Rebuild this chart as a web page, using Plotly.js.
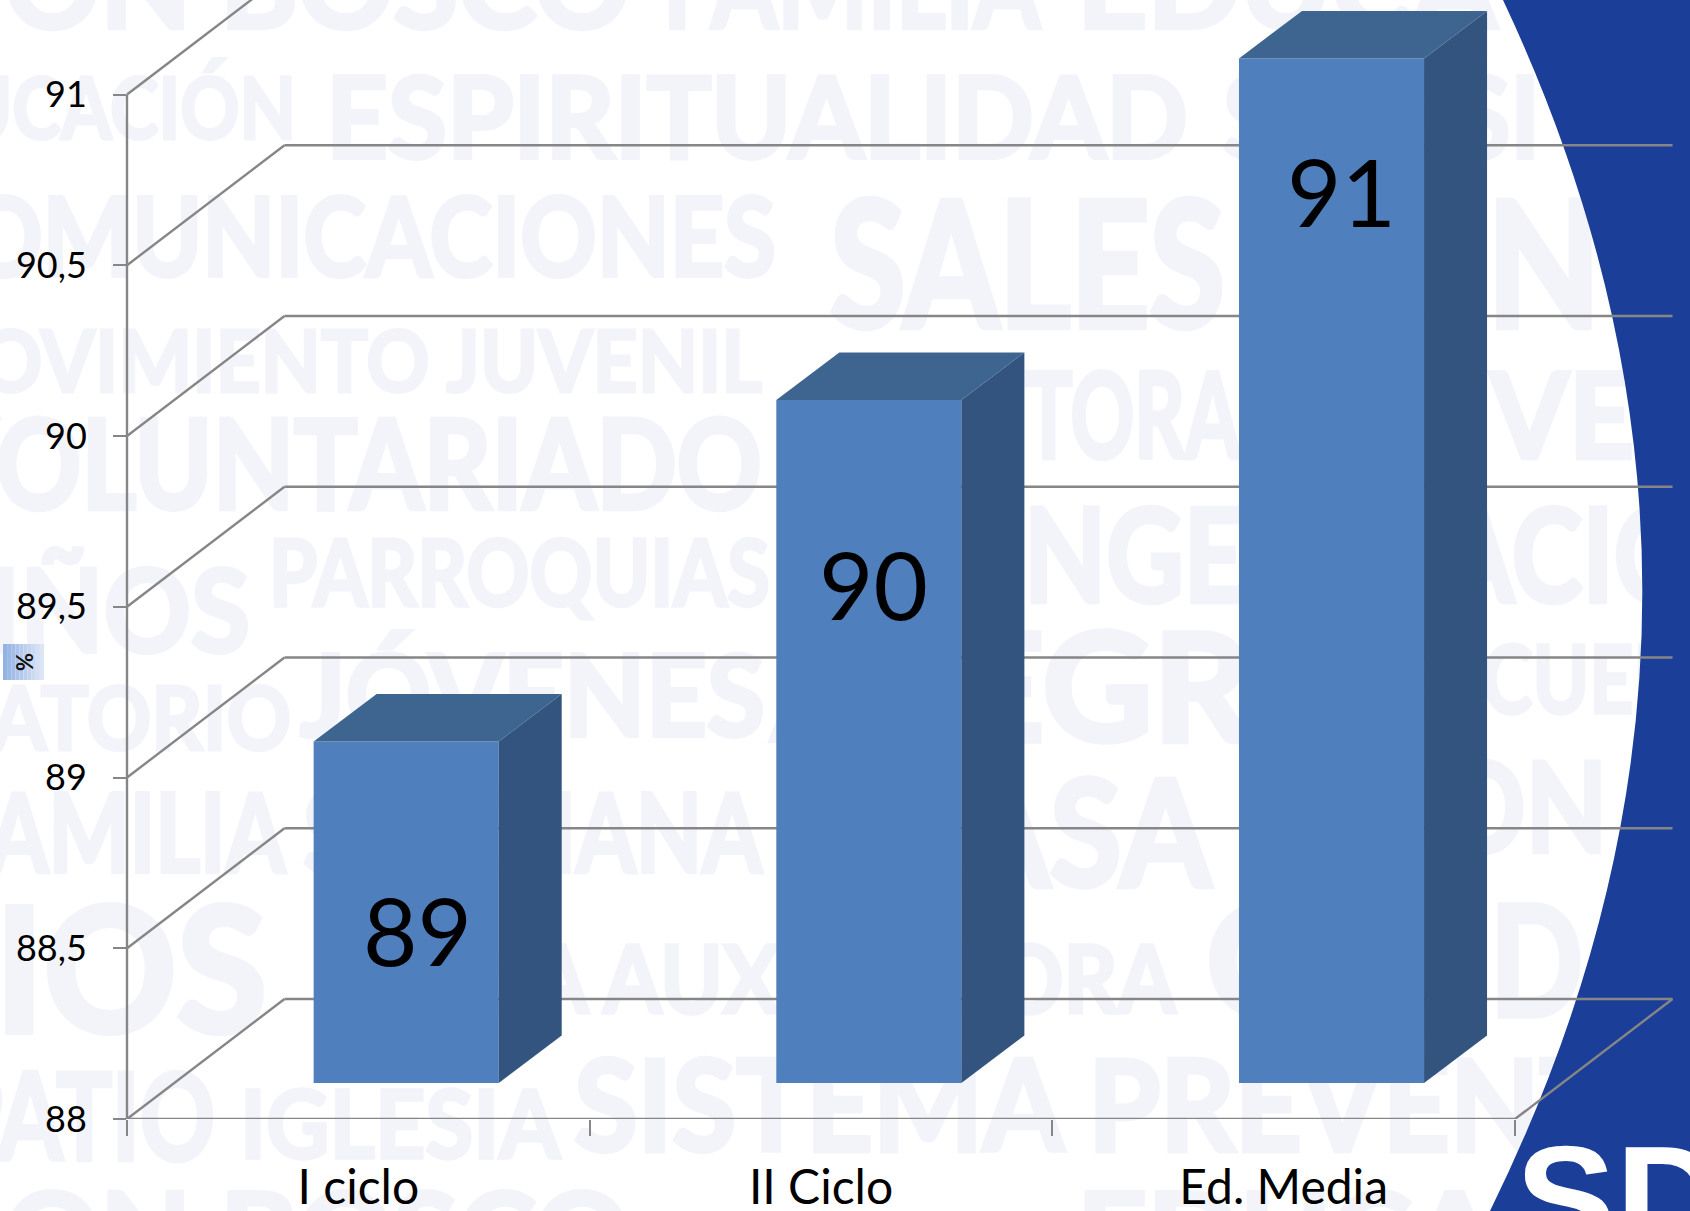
<!DOCTYPE html>
<html>
<head>
<meta charset="utf-8">
<script src="https://cdn.plot.ly/plotly-3.0.1.min.js"></script>
<style>html,body{margin:0;padding:0;background:#fff}#chart{width:1690px;height:1211px}</style>
</head>
<body>
<div id="chart"></div>
<script>
// ---- data ----
const categories = ['I ciclo', 'II Ciclo', 'Ed. Media'];
const values = [89, 90, 91];
const yTickVals = [88, 88.5, 89, 89.5, 90, 90.5, 91];
const yTickText = ['88', '88,5', '89', '89,5', '90', '90,5', '91'];
const unitLabel = '%';
const watermarkWords = ['DON BOSCO','FAMILIA','EDUCA','EDUCACIÓN','ESPIRITUALIDAD','SALESI','COMUNICACIONES','SALES','NO',
  'MOVIMIENTO JUVENIL','TORA','VE','VOLUNTARIADO','PARROQUIAS','NIÑOS','NGE','ACIÓ','ORATORIO','JÓVENES',
  'ALEGRIA','ESCUELA','FAMILIA SALESIANA','CASA','DON','PATIOS','MARÍA AUXILIADORA','C','D','PATIO','IGLESIA',
  'SISTEMA PREVENTIVO','DON BOSCO','EDUCA'];

// ---- layout constants (page pixels) ----
const W = 1690, H = 1211;
const L = 127, R = 1673, B = 1119;        // plot box; top is the page top
const unitX = 462.67, unitY = 341.5;      // px per category, px per value unit
const yRange = [88, 88 + B / unitY];
const xRange = [0, (R - L) / unitX];
const front = {dx: 48 / unitX, dy: 36 / unitY};  // bars sit this far behind the axis plane
const depth = {dx: 63 / unitX, dy: 47.5 / unitY};
const wall = {dx: 157.5 / unitX, dy: 120 / unitY};
const barLeft = 0.1034, barWidth = 0.4;
const BAR_FRONT = '#4F7FBC', BAR_SIDE = '#32547E', BAR_TOP = '#3E6490', GRID = '#868686', BLUE = '#1B3F98';

const px = x => (x - L) / (R - L);
const py = y => (B - y) / B;
const xf = u => u / xRange[1];   // position along the category scale, as a fraction of the plot width
const wmFont = 'Lato, sans-serif';
// [left x, right x, cap top y, cap bottom y] of each watermark word, same order as watermarkWords
const wmPlace = [[-85,630,-54,31],[663,1040,-54,31],[1077,1497,-54,31],[-140,296,79,141],[326,1188,79,160],[1223,1540,79,160],
  [-95,776,200,278],[830,1225,204,330],[1487,1720,204,330],
  [-95,762,332,394],[1025,1240,376,461],[1490,1634,376,461],[-75,762,422,511],[269,770,542,608],[-95,250,572,655],
  [1024,1245,511,605],[1440,1700,511,605],[-125,291,688,752],[300,765,657,738],
  [772,1402,636,744],[1396,1726,648,715],[-55,762,796,874],[872,1211,783,889],[1360,1607,765,854],[-300,267,912,1036],
  [313,1176,947,1015],[1206,1310,908,1019],[1490,1583,908,1019],[-55,215,1075,1162],[240,560,1092,1160],
  [574,1816,1063,1154],[-85,630,1196,1281],[1077,1497,1196,1281]];

const shapes = [];
watermarkWords.forEach((w, i) => {
  const [x0, x1, t, b] = wmPlace[i];
  const s = (b - t) / 0.72, cy = (t + b) / 2 - 0.06 * s, cx = (x0 + x1) / 2;
  shapes.push({type:'rect', xref:'paper', yref:'paper', layer:'below', x0:px(cx-50), x1:px(cx+50), y0:py(cy+20), y1:py(cy-20),
    line:{width:0}, fillcolor:'rgba(0,0,0,0)',
    label:{text:w, textposition:'middle center', font:{family:wmFont, size:s, color:'#F3F4FA', weight:'bold'}}});
});
// blue curved panel at the right
const P = (x, y) => px(x) + ' ' + py(y);
shapes.push({type:'path', xref:'paper', yref:'paper', layer:'below', line:{width:0}, fillcolor:BLUE,
  path:'M ' + P(1503,0) + ' Q ' + P(1788,605) + ' ' + P(1490,1211) + ' L ' + P(1690,1211) + ' L ' + P(1690,0) + ' Z'});
// logo letters
shapes.push({type:'rect', xref:'paper', yref:'paper', layer:'below', x0:px(1570), x1:px(1670), y0:py(1205), y1:py(1165),
  line:{width:0}, fillcolor:'rgba(0,0,0,0)',
  label:{text:'SD', textposition:'middle center', font:{family:'Liberation Sans', size:150, color:'#FFFFFF', weight:'bold'}}});
// % badge gradient
const nBadge = 10;
for (let i = 0; i < nBadge; i++) {
  const t = i / (nBadge - 1);
  const c = [148 + t * 72, 179 + t * 50, 227 + t * 18].map(Math.round);
  shapes.push({type:'rect', xref:'paper', yref:'paper', layer:'below', x0:px(3 + i * 4.1), x1:px(3 + (i + 1) * 4.1), y0:py(680), y1:py(644),
    line:{width:0}, fillcolor:'rgb(' + c.join(',') + ')'});
}
// walls: diagonal + back line for each level, placed on the value axis, beneath the bars
const gl = {color:GRID, width:2.4};
const wallLine = (x0, y0, x1, y1) => ({type:'line', xref:'paper', yref:'y', layer:'below', x0:xf(x0), y0, x1:xf(x1), y1, line:gl});
yTickVals.forEach(v => {
  shapes.push(wallLine(0, v, wall.dx, v + wall.dy));
  shapes.push(wallLine(wall.dx, v + wall.dy, 3 + wall.dx, v + wall.dy));
});
// floor edges and axis lines
shapes.push(wallLine(0, yRange[0], 3, yRange[0]));
shapes.push(wallLine(3, yRange[0], 3 + wall.dx, yRange[0] + wall.dy));
shapes.push(wallLine(0, yRange[0], 0, 91));

// ---- traces ----
const traces = [{
  type:'bar', x:categories, y:values.map(v => v - 88), base:88, xaxis:'x', yaxis:'y2',
  width:barWidth, offset:barLeft - 0.2, marker:{color:BAR_FRONT, line:{width:0}}, showlegend:false
}];
values.forEach((v, i) => {
  const xl = i + 0.5 + barLeft - 0.2, xr = xl + barWidth;
  traces.push({type:'scatter', mode:'lines', xaxis:'x2', yaxis:'y2', fill:'toself', fillcolor:BAR_SIDE, line:{width:0}, hoverinfo:'skip', showlegend:false,
    x:[xr, xr + depth.dx, xr + depth.dx, xr, xr], y:[88, 88 + depth.dy, v + depth.dy, v, 88]});
  traces.push({type:'scatter', mode:'lines', xaxis:'x2', yaxis:'y2', fill:'toself', fillcolor:BAR_TOP, line:{width:0}, hoverinfo:'skip', showlegend:false,
    x:[xl, xl + depth.dx, xr + depth.dx, xr, xl], y:[v, v + depth.dy, v + depth.dy, v, v]});
});

// value labels, centred where they sit on the bars
const labelX = [417, 873, 1341], labelY = [929, 583, 191];
const annotations = values.map((v, i) => ({
  xref:'paper', yref:'paper', x:px(labelX[i]), y:py(labelY[i]), text:String(v), showarrow:false, xanchor:'center', yanchor:'middle',
  font:{family:'Lato', size:94, color:'#000'}
}));
annotations.push({xref:'paper', yref:'paper', x:px(24), y:py(662), text:'<b>' + unitLabel + '</b>', textangle:-90, showarrow:false,
  xanchor:'center', yanchor:'middle', font:{family:'Lato', size:22, color:'#111'}});

const layout = {
  width:W, height:H, margin:{l:L, r:W - R, t:0, b:H - B, pad:0},
  paper_bgcolor:'#fff', plot_bgcolor:'rgba(0,0,0,0)', showlegend:false, hovermode:false,
  xaxis:{type:'category', categoryorder:'array', categoryarray:categories, range:[xRange[0] - 0.5, xRange[1] - 0.5], tickson:'boundaries',
    ticks:'outside', ticklen:16, tickwidth:2, tickcolor:GRID, showgrid:false, showline:false, zeroline:false,
    tickfont:{family:'Lato', size:48, color:'#000'}, ticklabelstandoff:36, fixedrange:true},
  yaxis:{range:yRange, tickmode:'array', tickvals:yTickVals, ticktext:yTickText, ticks:'outside', ticklen:13, tickwidth:2, tickcolor:GRID,
    showgrid:false, showline:false, zeroline:false, tickfont:{family:'Lato', size:36, color:'#000'}, ticklabelstandoff:19, fixedrange:true},
  xaxis2:{overlaying:'x', range:xRange, visible:false, fixedrange:true},
  yaxis2:{overlaying:'y', range:[yRange[0] - front.dy, yRange[1] - front.dy], visible:false, fixedrange:true},
  shapes:shapes, annotations:annotations
};
Plotly.newPlot('chart', traces, layout, {displayModeBar:false, staticPlot:true}).then(() => {
  // the watermark lettering is heavy and condensed: fit each word to its measured width
  const byText = {};
  document.querySelectorAll('#chart .shapelayer text').forEach(t => { (byText[t.textContent] = byText[t.textContent] || []).push(t); });
  watermarkWords.forEach((w, i) => {
    const t = (byText[w] || []).shift();
    if (t) {
      const capH = wmPlace[i][3] - wmPlace[i][2];
      t.style.fontWeight = 'bold';
      t.style.stroke = '#F3F4FA';
      t.style.strokeWidth = (capH * 0.05) + 'px';
      t.setAttribute('textLength', wmPlace[i][1] - wmPlace[i][0]);
      t.setAttribute('lengthAdjust', 'spacingAndGlyphs');
    }
  });
});
</script>
</body>
</html>
